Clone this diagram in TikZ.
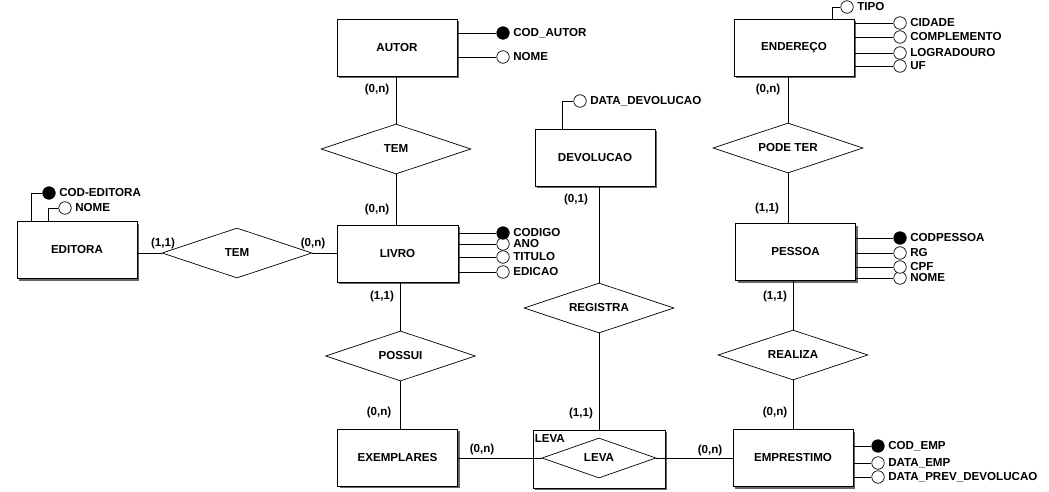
\documentclass[tikz,border=0pt]{standalone}
\usepackage{fontspec}
\setmainfont{Liberation Sans}
\usetikzlibrary{shapes.geometric,shadows,calc}
\begin{document}
\begin{tikzpicture}[x=1pt,y=-1pt,
  every node/.style={font=\fontsize{11.6}{13}\selectfont\bfseries},
  ent/.style={draw, fill=white, line width=0.9pt, minimum width=120pt, minimum height=57pt, inner sep=0pt,
    drop shadow={shadow xshift=2pt, shadow yshift=-2pt, fill=black!60, opacity=1}},
  rel/.style={draw, diamond, fill=white, line width=0.7pt, minimum width=150pt, minimum height=50pt, inner sep=0pt, aspect=3},
  attr/.style={draw, circle, fill=white, minimum size=12.5pt, inner sep=0pt, line width=0.7pt},
  key/.style={attr, fill=black},
  atxt/.style={anchor=west, inner xsep=3.5pt, inner ysep=0pt},
  card/.style={inner sep=0pt},
  conn/.style={line width=0.7pt},
]
\useasboundingbox (0,0) rectangle (1049,492);

% entities
\node[ent] (autor) at (397,47.5) {AUTOR};
\node[ent, minimum width=121pt] (livro) at (397.5,253.5) {LIVRO};
\node[ent] (exemplares) at (397.5,457.5) {EXEMPLARES};
\node[ent] (editora) at (77,250) {EDITORA};
\node[ent] (devolucao) at (595,157.5) {DEVOLUCAO};
\node[ent] (endereco) at (794,47.5) {ENDEREÇO};
\node[ent] (pessoa) at (795.5,252) {PESSOA};
\node[ent] (emprestimo) at (793,458) {EMPRESTIMO};
\node[ent, minimum width=132pt, minimum height=58pt] (levabox) at (599,459) {};
\node[anchor=north west, inner xsep=2pt, inner ysep=4.5pt] (levalbl) at (levabox.north west) {LEVA};

% relationships
\node[rel] (tem1) at (396,149) {TEM};
\node[rel] (tem2) at (237,253) {TEM};
\node[rel] (possui) at (400.5,356) {POSSUI};
\node[rel] (registra) at (599,308) {REGISTRA};
\node[rel] (podeter) at (788,148) {PODE TER};
\node[rel] (realiza) at (793,355) {REALIZA};
\node[rel, minimum width=114pt, minimum height=40pt] (levad) at (599,458) {LEVA};

% connectors
\draw[conn] (tem1.north |- autor.south) -- (tem1.north);
\draw[conn] (tem1.south) -- (tem1.south |- livro.north);
\draw[conn] (possui.north |- livro.south) -- (possui.north);
\draw[conn] (possui.south) -- (possui.south |- exemplares.north);
\draw[conn] (editora.east |- tem2.west) -- (tem2.west);
\draw[conn] (tem2.east) -- (tem2.east -| livro.west);
\draw[conn] (exemplares.east |- levad.west) -- (levad.west);
\draw[conn] (levad.east) -- (levad.east -| emprestimo.west);
\draw[conn] (registra.north |- devolucao.south) -- (registra.north);
\draw[conn] (registra.south) -- (registra.south |- levabox.north);
\draw[conn] (podeter.north |- endereco.south) -- (podeter.north);
\draw[conn] (podeter.south) -- (podeter.south |- pessoa.north);
\draw[conn] (realiza.north |- pessoa.south) -- (realiza.north);
\draw[conn] (realiza.south) -- (realiza.south |- emprestimo.north);

% cardinalities
\node[card] (c1) at (377,90) {(0,n)};
\node[card] (c2) at (377,209) {(0,n)};
\node[card] (c3) at (382,296) {(1,1)};
\node[card] (c4) at (379,412) {(0,n)};
\node[card] (c5) at (163,243) {(1,1)};
\node[card] (c6) at (313,243) {(0,n)};
\node[card] (c7) at (482,449) {(0,n)};
\node[card] (c8) at (710,450) {(0,n)};
\node[card] (c9) at (576,200) {(0,1)};
\node[card] (c10) at (581,413) {(1,1)};
\node[card] (c11) at (768,90) {(0,n)};
\node[card] (c12) at (767,208) {(1,1)};
\node[card] (c13) at (775,296) {(1,1)};
\node[card] (c14) at (775,412) {(0,n)};

% AUTOR attributes
\node[key] (aa1) at (503,33) {};
\node[attr] (aa2) at (503,57) {};
\draw[conn] (autor.east |- aa1) -- (aa1);
\draw[conn] (autor.east |- aa2) -- (aa2);
\node[atxt] (ta1) at (aa1.east) {COD\_AUTOR};
\node[atxt] (ta2) at (aa2.east) {NOME};

% LIVRO attributes
\node[attr] (la4) at (503,272) {};
\node[attr] (la3) at (503,257) {};
\node[attr] (la2) at (503,244) {};
\node[key] (la1) at (503,233) {};
\draw[conn] (livro.east |- la1) -- (la1);
\draw[conn] (livro.east |- la2) -- (la2);
\draw[conn] (livro.east |- la3) -- (la3);
\draw[conn] (livro.east |- la4) -- (la4);
\node[atxt] (tl1) at (la1.east) {CODIGO};
\node[atxt] (tl2) at (la2.east) {ANO};
\node[atxt] (tl3) at (la3.east) {TITULO};
\node[atxt] (tl4) at (la4.east) {EDICAO};

% EDITORA attributes
\node[key] (ea1) at (49,193) {};
\node[attr] (ea2) at (65,208) {};
\draw[conn] (ea1) -| ([xshift=15pt]editora.north west);
\draw[conn] (ea2) -| ([xshift=32pt]editora.north west);
\node[atxt] (te1) at (ea1.east) {COD-EDITORA};
\node[atxt] (te2) at (ea2.east) {NOME};

% DEVOLUCAO attribute
\node[attr] (da1) at (580,101) {};
\draw[conn] (da1) -| ([xshift=28pt]devolucao.north west);
\node[atxt] (td1) at (da1.east) {DATA\_DEVOLUCAO};

% ENDERECO attributes
\node[attr] (na0) at (847,7) {};
\draw[conn] (na0) -| ([xshift=-22pt]endereco.north east);
\node[atxt] (tn0) at (na0.east) {TIPO};
\node[attr] (na4) at (900,66) {};
\node[attr] (na3) at (900,53) {};
\node[attr] (na2) at (900,37) {};
\node[attr] (na1) at (900,23) {};
\draw[conn] (endereco.east |- na1) -- (na1);
\draw[conn] (endereco.east |- na2) -- (na2);
\draw[conn] (endereco.east |- na3) -- (na3);
\draw[conn] (endereco.east |- na4) -- (na4);
\node[atxt] (tn1) at (na1.east) {CIDADE};
\node[atxt] (tn2) at (na2.east) {COMPLEMENTO};
\node[atxt] (tn3) at (na3.east) {LOGRADOURO};
\node[atxt] (tn4) at (na4.east) {UF};

% PESSOA attributes
\node[attr] (pa4) at (900,278) {};
\node[attr] (pa3) at (900,267) {};
\node[attr] (pa2) at (900,253) {};
\node[key] (pa1) at (900,238) {};
\draw[conn] (pessoa.east |- pa1) -- (pa1);
\draw[conn] (pessoa.east |- pa2) -- (pa2);
\draw[conn] (pessoa.east |- pa3) -- (pa3);
\draw[conn] (pessoa.east |- pa4) -- (pa4);
\node[atxt] (tp1) at (pa1.east) {CODPESSOA};
\node[atxt] (tp2) at (pa2.east) {RG};
\node[atxt] (tp3) at (pa3.east) {CPF};
\node[atxt] (tp4) at (pa4.east) {NOME};

% EMPRESTIMO attributes
\node[attr] (ma3) at (878,477) {};
\node[attr] (ma2) at (878,463) {};
\node[key] (ma1) at (878,446) {};
\draw[conn] (emprestimo.east |- ma1) -- (ma1);
\draw[conn] (emprestimo.east |- ma2) -- (ma2);
\draw[conn] (emprestimo.east |- ma3) -- (ma3);
\node[atxt] (tm1) at (ma1.east) {COD\_EMP};
\node[atxt] (tm2) at (ma2.east) {DATA\_EMP};
\node[atxt] (tm3) at (ma3.east) {DATA\_PREV\_DEVOLUCAO};
\end{tikzpicture}
\end{document}
